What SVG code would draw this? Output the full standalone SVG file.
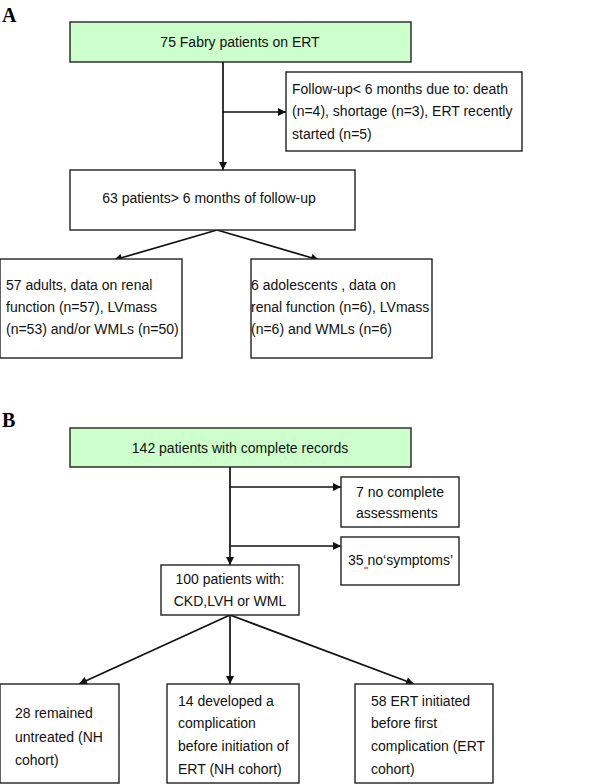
<svg xmlns="http://www.w3.org/2000/svg" width="600" height="784" viewBox="0 0 600 784">
<style>
.box{fill:#ffffff;stroke:#222;stroke-width:1.4}
.green{fill:#ccffcc;stroke:#222;stroke-width:1.4}
.t{font-family:"Liberation Sans",Arial,sans-serif;font-size:14px;fill:#111}
.c{text-anchor:middle}
.lbl{font-family:"Liberation Serif","Times New Roman",serif;font-size:20px;font-weight:bold;fill:#000}
.ln{stroke:#111;stroke-width:1.7;fill:none}
</style>
<defs>
<marker id="ah" viewBox="0 0 10 10" refX="10" refY="5" markerWidth="9" markerHeight="8" markerUnits="userSpaceOnUse" orient="auto">
<path d="M0,0 L10,5 L0,10 z" fill="#111"/>
</marker>
</defs>
<rect width="600" height="784" fill="#ffffff"/>
<text class="lbl" x="2" y="22">A</text>
<text class="lbl" x="2" y="427">B</text>

<g id="connectors">
<line class="ln" x1="223" y1="62" x2="223" y2="170" marker-end="url(#ah)"/>
<line class="ln" x1="223" y1="112" x2="286" y2="112" marker-end="url(#ah)"/>
<line class="ln" x1="217" y1="230" x2="114" y2="260" marker-end="url(#ah)"/>
<line class="ln" x1="217" y1="230" x2="319" y2="260" marker-end="url(#ah)"/>
<line class="ln" x1="230" y1="467" x2="230" y2="565" marker-end="url(#ah)"/>
<line class="ln" x1="230" y1="487" x2="341" y2="487" marker-end="url(#ah)"/>
<line class="ln" x1="230" y1="546" x2="341" y2="546" marker-end="url(#ah)"/>
<line class="ln" x1="230" y1="615" x2="79" y2="684" marker-end="url(#ah)"/>
<line class="ln" x1="230" y1="615" x2="230" y2="684" marker-end="url(#ah)"/>
<line class="ln" x1="230" y1="615" x2="414" y2="684" marker-end="url(#ah)"/>
</g>

<g id="a_start">
<rect class="green" x="70" y="22" width="341" height="40"/>
<text class="t c" x="240" y="47">75 Fabry patients on ERT</text>
</g>
<g id="a_excluded">
<rect class="box" x="286" y="72" width="236" height="79"/>
<text class="t" x="292" y="94">Follow-up&lt; 6 months due to: death</text>
<text class="t" x="292" y="116">(n=4), shortage (n=3), ERT recently</text>
<text class="t" x="292" y="139">started (n=5)</text>
</g>
<g id="a_followup">
<rect class="box" x="70" y="170" width="285" height="60"/>
<text class="t c" x="209" y="203">63 patients&gt; 6 months of follow-up</text>
</g>
<g id="a_adults">
<rect class="box" x="0" y="259" width="182" height="99"/>
<text class="t" x="6" y="290">57 adults, data on renal</text>
<text class="t" x="6" y="312">function (n=57), LVmass</text>
<text class="t" x="6" y="334">(n=53) and/or WMLs (n=50)</text>
</g>
<g id="a_adolescents">
<rect class="box" x="251" y="259" width="181" height="99"/>
<text class="t" x="251" y="290">6 adolescents , data on</text>
<text class="t" x="251" y="312">renal function (n=6), LVmass</text>
<text class="t" x="251" y="334">(n=6) and WMLs (n=6)</text>
</g>

<g id="b_start">
<rect class="green" x="70" y="428" width="341" height="39"/>
<text class="t c" x="240" y="453">142 patients with complete records</text>
</g>
<g id="b_noassess">
<rect class="box" x="341" y="477" width="118" height="50"/>
<text class="t" x="356" y="497">7 no complete</text>
<text class="t" x="356" y="518">assessments</text>
</g>
<g id="b_nosymptoms">
<rect class="box" x="341" y="537" width="118" height="48"/>
<text class="t" x="348" y="565">35 no‘symptoms’</text>
<line x1="364" y1="568" x2="368" y2="568" stroke="#e02020" stroke-width="1.2"/>
</g>
<g id="b_100">
<rect class="box" x="161" y="565" width="138" height="50"/>
<text class="t c" x="230" y="584">100 patients with:</text>
<text class="t c" x="230" y="606">CKD,LVH or WML</text>
</g>
<g id="b_untreated">
<rect class="box" x="0" y="684" width="119" height="99"/>
<text class="t" x="15" y="718">28 remained</text>
<text class="t" x="15" y="742">untreated (NH</text>
<text class="t" x="15" y="765">cohort)</text>
</g>
<g id="b_complication">
<rect class="box" x="167" y="684" width="132" height="99"/>
<text class="t" x="178" y="706">14 developed a</text>
<text class="t" x="178" y="728">complication</text>
<text class="t" x="178" y="751">before initiation of</text>
<text class="t" x="178" y="774">ERT (NH cohort)</text>
</g>
<g id="b_ert">
<rect class="box" x="355" y="684" width="138" height="99"/>
<text class="t" x="371" y="706">58 ERT initiated</text>
<text class="t" x="371" y="728">before first</text>
<text class="t" x="371" y="751">complication (ERT</text>
<text class="t" x="371" y="774">cohort)</text>
</g>
</svg>
